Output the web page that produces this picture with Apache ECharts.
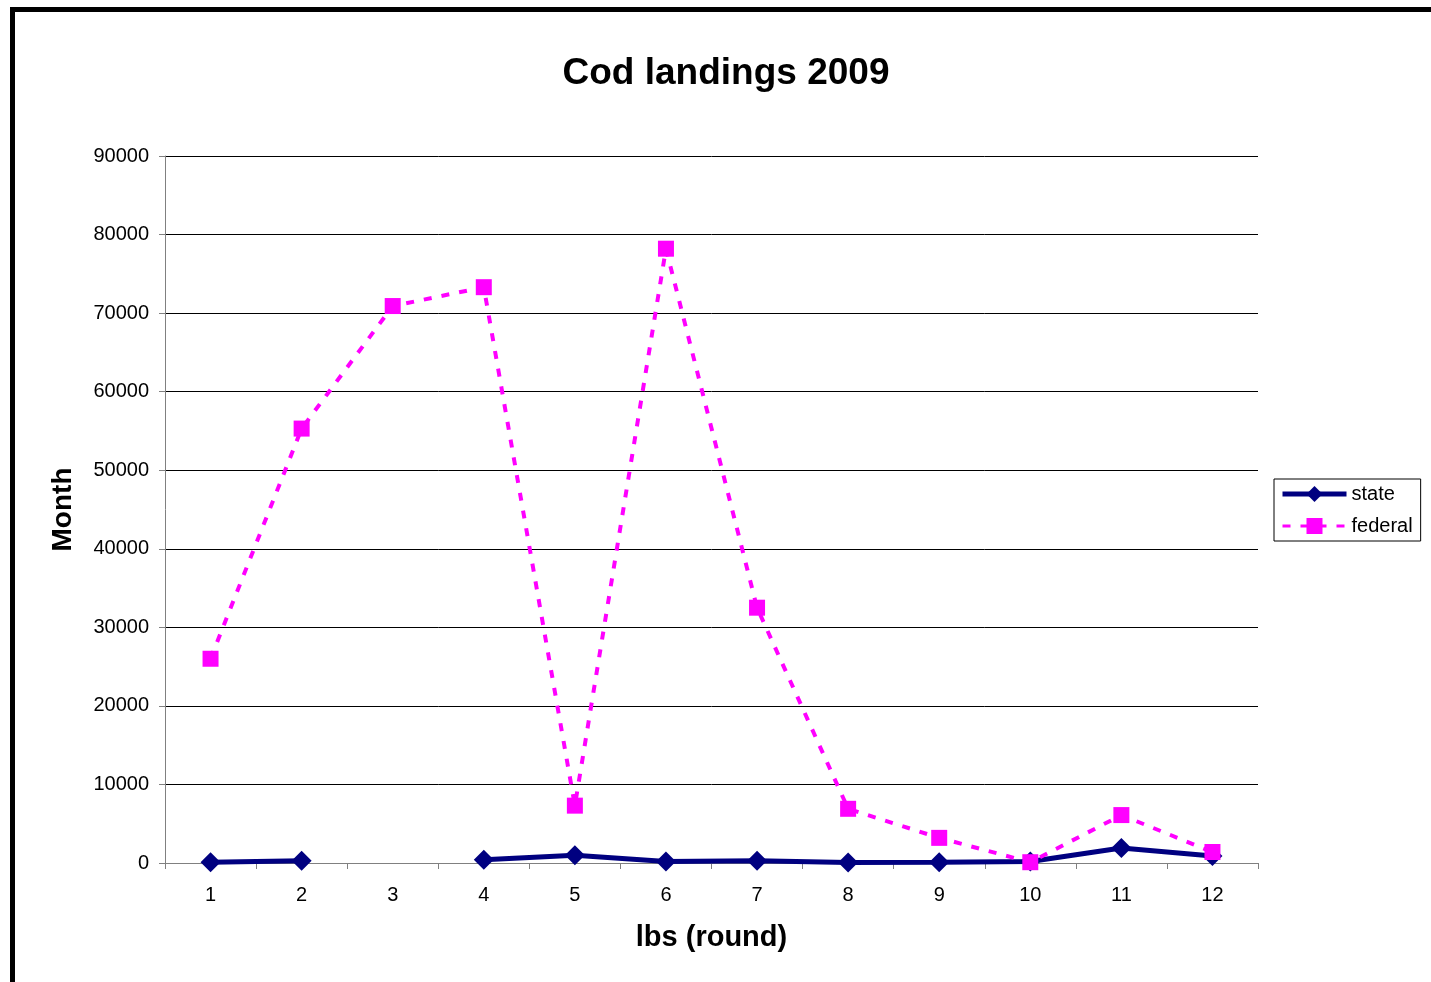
<!DOCTYPE html>
<html>
<head>
<meta charset="utf-8">
<script src="https://cdn.jsdelivr.net/npm/echarts@6/dist/echarts.min.js"></script>
<style>
* {
  padding: 0;
  margin: 0;
}
body {
  background: #fff;
}
#frame {
  position: absolute;
  left: 10px;
  top: 7px;
  width: 2000px;
  height: 2000px;
  border-top: 5px solid #000;
  border-left: 5px solid #000;
  pointer-events: none;
}
</style>
</head>
<body>
<div id="charts" style="width: 1431px; height: 982px"></div>
<div id="frame"></div>
<script>
// months on the x axis
const months = ["1", "2", "3", "4", "5", "6", "7", "8", "9", "10", "11", "12"];
// lbs landed
const stateData = [100, 300, null, 400, 1000, 200, 300, 50, 100, 200, 1900, 900];
const federalData = [26000, 55300, 70900, 73300, 7300, 78200, 32500, 6900, 3200, 100, 6100, 1400];

const chart = echarts.init(document.getElementById("charts"));
const font = "Liberation Sans, Arial, sans-serif";

chart.setOption({
  animation: false,
  title: {
    text: "Cod landings 2009",
    left: 726,
    top: 55,
    padding: 0,
    textAlign: "center",
    textStyle: {
      fontFamily: font,
      fontSize: 37,
      fontWeight: "bold",
      color: "#000",
    },
  },
  legend: {
    orient: "vertical",
    left: 1274,
    top: 479,
    padding: [5, 8, 5, 6],
    borderColor: "#000",
    borderWidth: 1,
    itemWidth: 64,
    itemHeight: 20,
    itemGap: 12,
    textStyle: {
      fontFamily: font,
      fontSize: 20,
      color: "#000",
    },
    data: [
      { name: "state", lineStyle: { width: 5 } },
      { name: "federal", lineStyle: { width: 3 } },
    ],
  },
  grid: {
    left: 165,
    right: 173,
    top: 156,
    bottom: 119,
  },
  xAxis: {
    type: "category",
    data: months,
    boundaryGap: true,
    name: "lbs (round)",
    nameLocation: "middle",
    nameGap: 60,
    nameTextStyle: {
      fontFamily: font,
      fontSize: 29,
      fontWeight: "bold",
      color: "#000",
    },
    axisLine: { lineStyle: { color: "#808080", width: 1 } },
    axisTick: { show: true, length: 6, interval: 0, lineStyle: { color: "#808080" } },
    axisLabel: {
      margin: 22,
      fontFamily: font,
      fontSize: 20,
      color: "#000",
    },
    splitLine: { show: false },
  },
  yAxis: {
    type: "value",
    min: 0,
    max: 90000,
    interval: 10000,
    name: "Month",
    nameLocation: "middle",
    nameGap: 88,
    nameRotate: 90,
    nameTextStyle: {
      fontFamily: font,
      fontSize: 28,
      fontWeight: "bold",
      color: "#000",
    },
    axisLine: { show: true, lineStyle: { color: "#808080", width: 1 } },
    axisTick: { show: true, length: 6, lineStyle: { color: "#808080" } },
    axisLabel: {
      margin: 16,
      fontFamily: font,
      fontSize: 20,
      color: "#000",
      formatter: (v) => String(v),
    },
    splitLine: { show: true, lineStyle: { color: "#000", width: 1 } },
  },
  series: [
    {
      name: "state",
      type: "line",
      data: stateData,
      connectNulls: false,
      symbol: "diamond",
      symbolSize: 20,
      itemStyle: { color: "#000080" },
      lineStyle: { width: 5, color: "#000080" },
    },
    {
      name: "federal",
      type: "line",
      data: federalData,
      symbol: "rect",
      symbolSize: 16,
      itemStyle: { color: "#ff00ff" },
      lineStyle: { width: 4, color: "#ff00ff", type: [8, 10] },
    },
  ],
});
</script>
</body>
</html>
